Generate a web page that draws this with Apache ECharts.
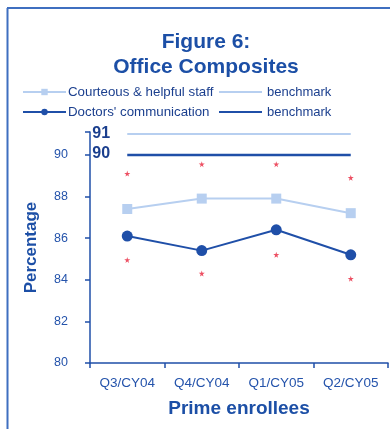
<!DOCTYPE html>
<html>
<head>
<meta charset="utf-8">
<script src="https://cdn.jsdelivr.net/npm/echarts@6/dist/echarts.min.js"></script>
<style>
  html, body { margin: 0; padding: 0; background: #ffffff; }
  #chart { width: 390px; height: 429px; }
</style>
</head>
<body>
<div id="chart"></div>
<script>
// Quarterly survey periods
const quarters = ['Q3/CY04', 'Q4/CY04', 'Q1/CY05', 'Q2/CY05'];

// Composite scores (percent)
const staffScores = [87.4, 87.9, 87.9, 87.2];
const doctorScores = [86.1, 85.4, 86.4, 85.2];

// Benchmarks
const staffBenchmark = 91;
const doctorBenchmark = 90;

// Significance markers above / below each line
const staffMarks = [89.1, 89.55, 89.55, 88.9];
const doctorMarks = [84.95, 84.3, 85.2, 84.05];

// Y-axis range
const yMin = 80, yMax = 91.1, yStep = 2;

const dark = '#1f4fa8';
const light = '#b7cff0';
const navy = '#1b3f8e';
const textBlue = '#2453ab';
const starRed = '#e8243c';
const font = 'Liberation Sans, Arial, sans-serif';

const starPath = 'path://M50,0 L61,35 L98,35 L68,57 L79,91 L50,70 L21,91 L32,57 L2,35 L39,35 Z';

// Benchmark values, with the value printed beside the first point only
function benchData(v) {
  return quarters.map((q, i) => ({ value: v, label: { show: i === 0 } }));
}

const chart = echarts.init(document.getElementById('chart'), null, { renderer: 'canvas' });

chart.setOption({
  animation: false,
  backgroundColor: '#ffffff',
  title: {
    text: 'Figure 6:\nOffice Composites',
    left: 201,
    top: 25,
    textAlign: 'center',
    textStyle: { fontFamily: font, fontSize: 21, fontWeight: 'bold', color: '#1c4fa6', lineHeight: 25 }
  },
  legend: [
    {
      orient: 'vertical', left: 22, top: 85, padding: 0, itemGap: 6, itemWidth: 43, itemHeight: 8,
      textStyle: { fontFamily: font, fontSize: 13.3, lineHeight: 14, color: navy, padding: [0, 0, 0, -3] },
      data: ['Courteous & helpful staff', "Doctors' communication"]
    },
    {
      orient: 'vertical', left: 219, top: 85, padding: 0, itemGap: 6, itemWidth: 43, itemHeight: 8,
      icon: 'path://M0,3 L44,3 L44,5 L0,5 Z',
      textStyle: { fontFamily: font, fontSize: 13, lineHeight: 14, color: navy, padding: [0, 0, 0, 0] },
      data: ['staffBench', 'doctorBench'],
      formatter: () => 'benchmark'
    }
  ],
  grid: { left: 90, right: 2, top: 132, bottom: 66 },
  xAxis: {
    type: 'category',
    data: quarters,
    boundaryGap: true,
    name: 'Prime enrollees',
    nameLocation: 'middle',
    nameGap: 36,
    nameTextStyle: { fontFamily: font, fontSize: 19, fontWeight: 'bold', color: '#1c4fa6' },
    axisLine: { lineStyle: { color: dark, width: 1.5 } },
    axisTick: { show: true, length: 5, lineStyle: { color: dark, width: 1.5 } },
    axisLabel: { fontFamily: font, fontSize: 13.5, color: textBlue, margin: 13 },
    splitLine: { show: false }
  },
  yAxis: {
    type: 'value',
    min: yMin, max: yMax, interval: yStep,
    name: 'Percentage',
    nameLocation: 'middle',
    nameGap: 50,
    nameTextStyle: { fontFamily: font, fontSize: 17, fontWeight: 'bold', color: '#1c4fa6' },
    axisLine: { show: true, lineStyle: { color: dark, width: 1.5 } },
    axisTick: { show: true, length: 5, lineStyle: { color: dark, width: 1.5 } },
    axisLabel: { fontFamily: font, fontSize: 12.5, color: textBlue, margin: 22,
                 formatter: v => (v % 2 === 0 ? String(v) : '') },
    splitLine: { show: false }
  },
  series: [
    {
      name: 'staffBench', type: 'line', data: benchData(staffBenchmark),
      symbol: 'circle', symbolSize: 0, showSymbol: true,
      lineStyle: { color: light, width: 2 }, itemStyle: { color: light },
      label: { position: [-35, -8], fontFamily: font, fontSize: 16,
               fontWeight: 'bold', color: navy },
      z: 1
    },
    {
      name: 'doctorBench', type: 'line', data: benchData(doctorBenchmark),
      symbol: 'circle', symbolSize: 0, showSymbol: true,
      lineStyle: { color: dark, width: 2.5 }, itemStyle: { color: dark },
      label: { position: [-35, -9], fontFamily: font, fontSize: 16,
               fontWeight: 'bold', color: navy },
      z: 1
    },
    {
      name: 'Courteous & helpful staff', type: 'line', data: staffScores,
      symbol: 'rect', symbolSize: 10,
      lineStyle: { color: light, width: 2 }, itemStyle: { color: light },
      z: 3
    },
    {
      name: "Doctors' communication", type: 'line', data: doctorScores,
      symbol: 'circle', symbolSize: 11,
      lineStyle: { color: dark, width: 2 }, itemStyle: { color: dark },
      z: 3
    },
    {
      name: 'staffMarks', type: 'scatter', data: staffMarks,
      symbol: starPath, symbolSize: 6, itemStyle: { color: starRed }, z: 2
    },
    {
      name: 'doctorMarks', type: 'scatter', data: doctorMarks,
      symbol: starPath, symbolSize: 6, itemStyle: { color: starRed }, z: 2
    }
  ],
  graphic: [
    { type: 'line', shape: { x1: 7.5, y1: 8, x2: 7.5, y2: 429 }, style: { stroke: '#3f6fc0', lineWidth: 2 } },
    { type: 'line', shape: { x1: 7, y1: 8, x2: 390, y2: 8 }, style: { stroke: '#3f6fc0', lineWidth: 2 } }
  ]
});
</script>
</body>
</html>
